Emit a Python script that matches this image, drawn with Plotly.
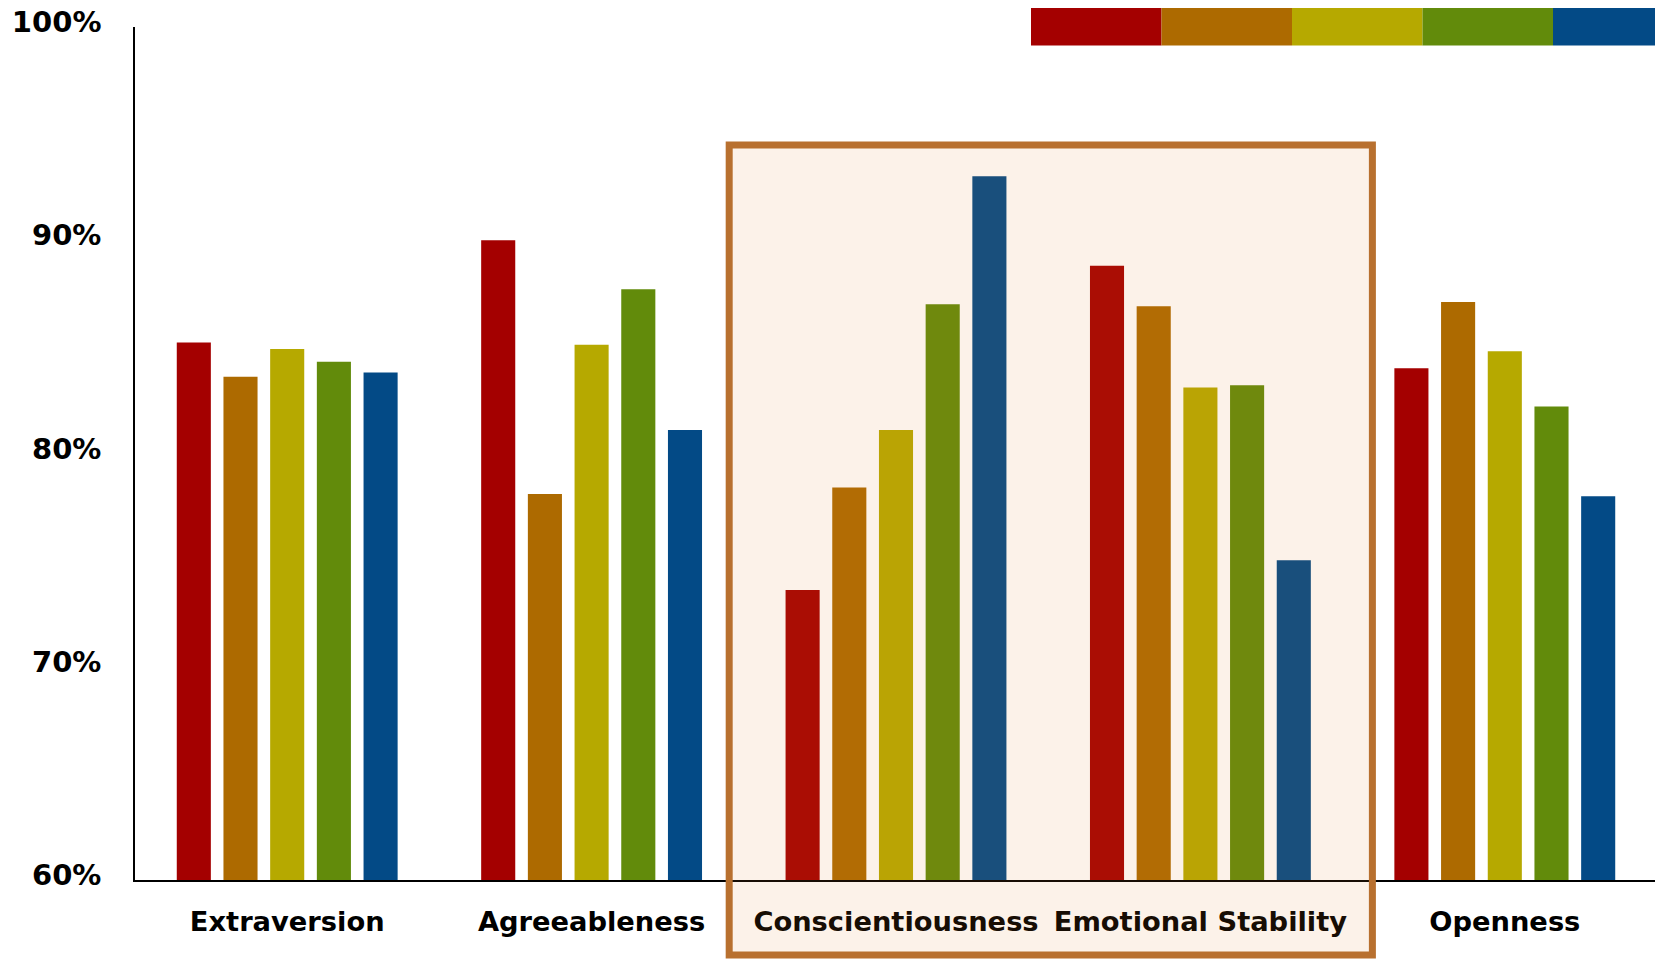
import plotly.graph_objects as go

categories = ["Extraversion", "Agreeableness", "Conscientiousness", "Emotional Stability", "Openness"]
series_names = ["Group 1", "Group 2", "Group 3", "Group 4", "Group 5"]
series_colors = ["#A40000", "#AD6A00", "#B6A900", "#628B0B", "#034A86"]
values_s1 = [85.2, 90.0, 73.6, 88.8, 84.0]
values_s2 = [83.6, 78.1, 78.4, 86.9, 87.1]
values_s3 = [84.9, 85.1, 81.1, 83.1, 84.8]
values_s4 = [84.3, 87.7, 87.0, 83.2, 82.2]
values_s5 = [83.8, 81.1, 93.0, 75.0, 78.0]
all_values = [values_s1, values_s2, values_s3, values_s4, values_s5]
y_ticks = [60, 70, 80, 90, 100]
y_tick_labels = ["60%", "70%", "80%", "90%", "100%"]

# page has an 8px body margin: figure is placed at (8, 8)
OFF = 8
W, H = 1663 - OFF, 959 - OFF
ML, MR, MT, MB = 135 - OFF, 6, 27 - OFF, 79
FONT = "DejaVu Sans"

def px_to_paper_x(px):  # px in page coordinates
    return (px - OFF - ML) / (W - ML - MR)

def px_to_paper_y(py):
    return (H - MB - (py - OFF)) / (H - MT - MB)

fig = go.Figure()
for name, color, vals in zip(series_names, series_colors, all_values):
    fig.add_trace(go.Bar(x=categories, y=vals, name=name,
                         marker=dict(color=color, line=dict(width=0)),
                         showlegend=False))

shapes = []
# highlight box around Conscientiousness & Emotional Stability
shapes.append(dict(type="rect", layer="above", xref="x", yref="paper",
                   x0=1.452, x1=3.565,
                   y0=px_to_paper_y(955), y1=px_to_paper_y(145),
                   fillcolor="rgba(230,130,40,0.10)",
                   line=dict(color="#B8702F", width=7)))
# colour strip (legend swatches) at top right
sw_left, sw_w, sw_h = 1031, 130.5, 45.6
for i, c in enumerate(series_colors):
    shapes.append(dict(type="rect", xref="paper", yref="paper",
                       x0=px_to_paper_x(sw_left + i * sw_w),
                       x1=px_to_paper_x(sw_left + (i + 1) * sw_w),
                       y0=px_to_paper_y(sw_h), y1=px_to_paper_y(-10),
                       fillcolor=c, line=dict(width=0)))

fig.update_layout(
    width=W, height=H,
    margin=dict(l=ML, r=MR, t=MT, b=MB, pad=0, autoexpand=False),
    plot_bgcolor="white", paper_bgcolor="white",
    barmode="group", bargap=0.233, bargroupgap=0.27,
    shapes=shapes,
    font=dict(family=FONT, color="black"),
)
fig.update_xaxes(showline=True, linecolor="black", linewidth=1.5,
                 showgrid=False, ticks="", range=[-0.5, 4.5], automargin=False,
                 tickfont=dict(family=FONT, size=27.3, color="black", weight="bold"),
                 ticklabelstandoff=16)
fig.update_yaxes(showline=True, linecolor="black", linewidth=1.5,
                 showgrid=False, zeroline=False, ticks="", range=[60, 100],
                 automargin=False,
                 tickmode="array", tickvals=y_ticks, ticktext=y_tick_labels,
                 tickfont=dict(family=FONT, size=29, color="black", weight="bold"),
                 ticklabelstandoff=26, ticklabelshift=-5,
                 ticklabeloverflow="allow")

fig.write_html("out.html")
